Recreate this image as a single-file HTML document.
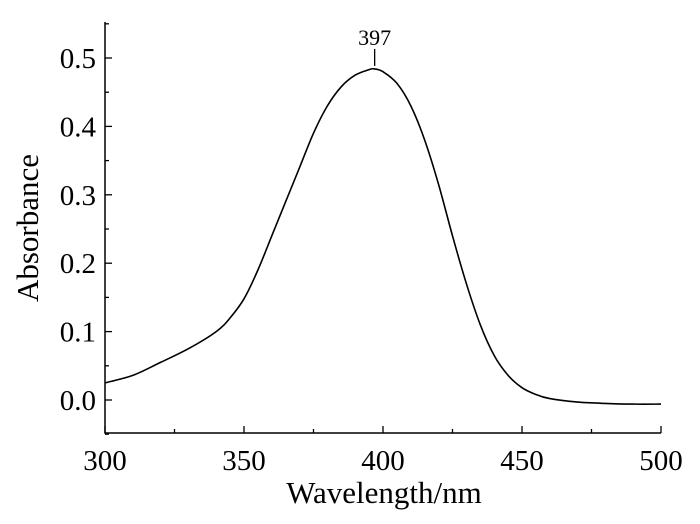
<!DOCTYPE html>
<html><head><meta charset="utf-8"><style>
body{margin:0;background:#fff}
svg text{font-family:"Liberation Serif","Times New Roman",serif;fill:#000}
</style></head><body>
<svg id="chart" width="700" height="519"></svg>
<script>
const xTicks=[300,350,400,450,500];
const yTicks=[0.0,0.1,0.2,0.3,0.4,0.5];
const wavelengths=[300,310,320,330,340,345,350,355,360,365,370,375,380,385,390,395,397,400,405,410,415,420,425,430,435,440,445,450,455,460,470,480,490,500];
const absorbance=[0.025,0.036,0.055,0.075,0.100,0.120,0.148,0.19,0.24,0.29,0.34,0.39,0.43,0.458,0.475,0.483,0.484,0.480,0.463,0.430,0.380,0.315,0.240,0.170,0.110,0.065,0.036,0.018,0.008,0.002,-0.003,-0.005,-0.006,-0.006];
const peakLabel=397;
const NS="http://www.w3.org/2000/svg";
const svg=document.getElementById('chart');
const X=v=>105+(v-300)*(556/200);
const Y=v=>400-v*684;
function mk(t,a){const e=document.createElementNS(NS,t);for(const k in a)e.setAttribute(k,a[k]);svg.appendChild(e);return e;}
let ax=mk('path',{d:'M105 22 V433 H661',fill:'none',stroke:'#000','stroke-width':1.5});


xTicks.forEach((v,i)=>{
 let t=mk('line',{x1:X(v),x2:X(v),y1:433,y2:426,stroke:'#000','stroke-width':1.3});
 
 
 if(i<xTicks.length-1){let m=mk('line',{x1:X(v+25),x2:X(v+25),y1:433,y2:429,stroke:'#000','stroke-width':1.3});
 
 }
 let l=mk('text',{x:X(v),y:470,'font-size':29,'text-anchor':'middle'});l.textContent=v;
 
 
});
yTicks.forEach((v,i)=>{
 let t=mk('line',{x1:105,x2:112,y1:Y(v),y2:Y(v),stroke:'#000','stroke-width':1.3});
 
 
 let m=mk('line',{x1:105,x2:109,y1:Y(v+0.05),y2:Y(v+0.05),stroke:'#000','stroke-width':1.3});
 
 
 let l=mk('text',{x:96,y:Y(v)+10,'font-size':29,'text-anchor':'end'});l.textContent=v.toFixed(1);
 
 
});
let m2=mk('line',{x1:105,x2:109,y1:Y(-0.05),y2:Y(-0.05),stroke:'#000','stroke-width':1.3});


const P=wavelengths.map((w,i)=>[X(w),Y(absorbance[i])]);
let d='M'+P[0][0].toFixed(1)+' '+P[0][1].toFixed(1);
for(let i=0;i<P.length-1;i++){
 const p0=P[Math.max(0,i-1)],p1=P[i],p2=P[i+1],p3=P[Math.min(P.length-1,i+2)];
 const c1=[p1[0]+(p2[0]-p0[0])/6,p1[1]+(p2[1]-p0[1])/6];
 const c2=[p2[0]-(p3[0]-p1[0])/6,p2[1]-(p3[1]-p1[1])/6];
 d+=' C'+c1.map(n=>n.toFixed(1)).join(' ')+' '+c2.map(n=>n.toFixed(1)).join(' ')+' '+p2.map(n=>n.toFixed(1)).join(' ');
}
let c=mk('path',{d:d,fill:'none',stroke:'#000','stroke-width':1.6,'stroke-linejoin':'round'});


let pi=wavelengths.indexOf(peakLabel);
let pl=mk('line',{x1:X(peakLabel),x2:X(peakLabel),y1:Y(absorbance[pi])-3,y2:Y(absorbance[pi])-20,stroke:'#000','stroke-width':1.3});


let pt=mk('text',{x:X(peakLabel),y:Y(absorbance[pi])-24,'font-size':22,'text-anchor':'middle'});pt.textContent=peakLabel;


let xt=mk('text',{x:384,y:503,'font-size':31,'text-anchor':'middle'});xt.textContent='Wavelength/nm';


let yt=mk('text',{x:0,y:0,'font-size':31,'text-anchor':'middle',transform:'translate(38,228) rotate(-90)'});yt.textContent='Absorbance';


</script>
</body></html>
